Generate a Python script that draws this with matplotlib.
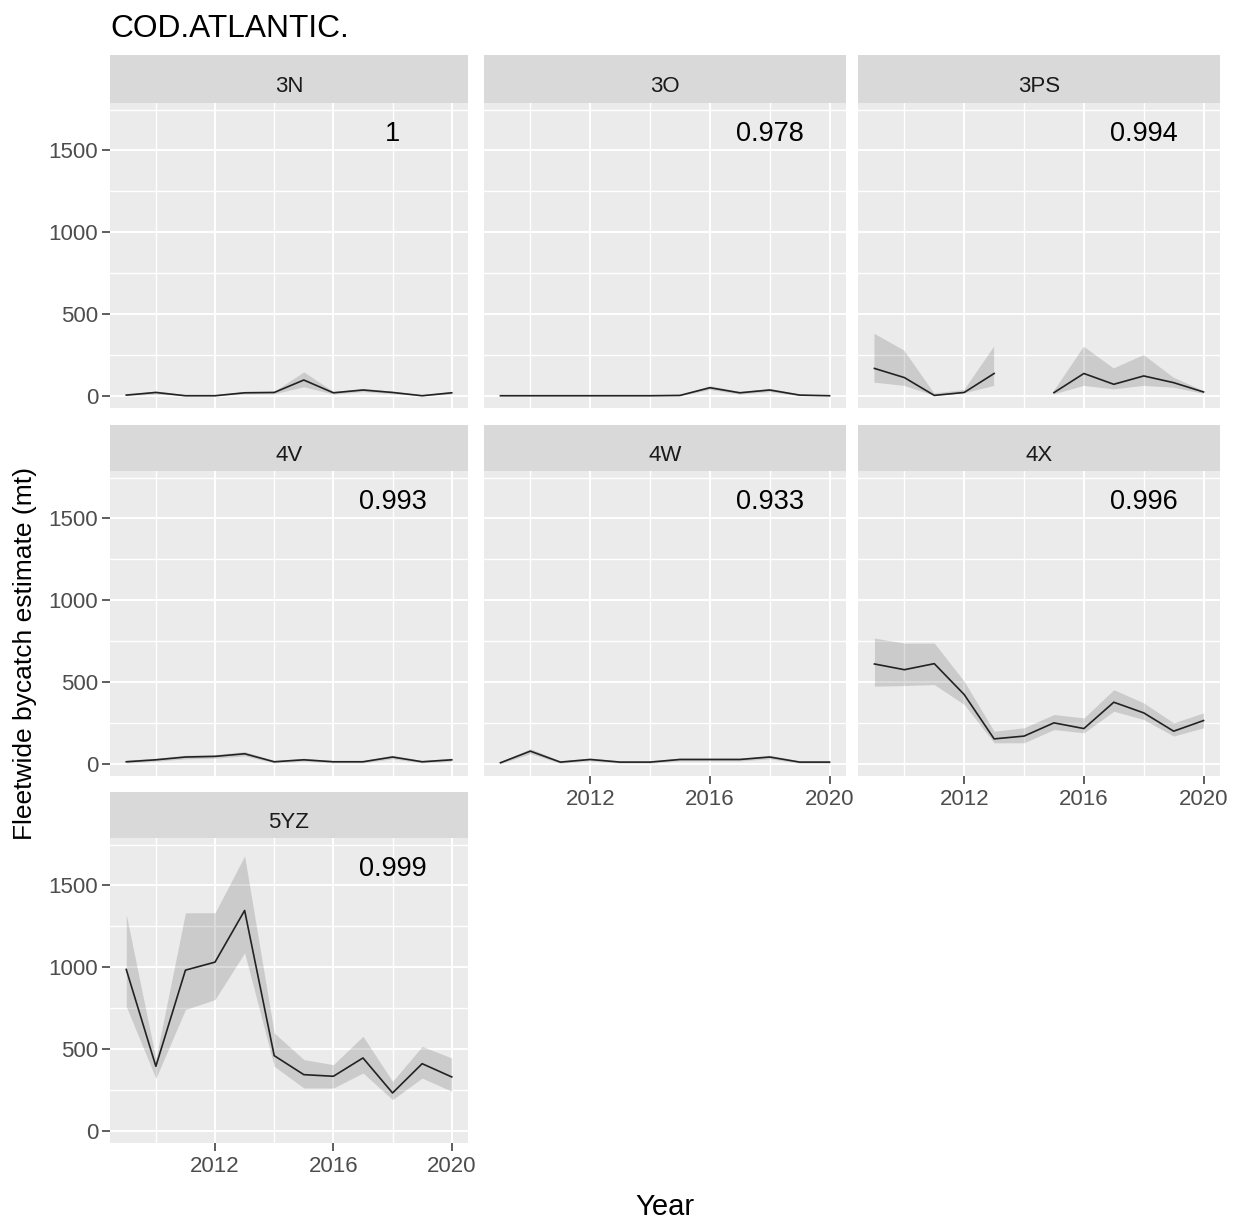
import numpy as np
import matplotlib.pyplot as plt
from matplotlib.ticker import FixedLocator

plt.rcParams['font.family'] = ['Liberation Sans', 'DejaVu Sans']

years = np.arange(2009, 2021)
areas = ["3N", "3O", "3PS", "4V", "4W", "4X", "5YZ"]
r2_text = ["1", "0.978", "0.994", "0.993", "0.933", "0.996", "0.999"]

# fleetwide bycatch estimates (mt) with lower / upper bounds, 2009-2020
est_3n = [4, 20, 0, 0, 18, 20, 96, 18, 35, 20, 0, 18]
lo_3n = [0, 10, 0, 0, 10, 12, 55, 10, 25, 12, 0, 10]
hi_3n = [8, 30, 6, 6, 26, 28, 146, 26, 45, 28, 6, 26]

est_3o = [0, 0, 0, 0, 0, 0, 2, 49, 18, 35, 4, 0]
lo_3o = [0, 0, 0, 0, 0, 0, 0, 38, 10, 25, 0, 0]
hi_3o = [3, 3, 3, 3, 3, 3, 6, 62, 26, 45, 10, 3]

est_3ps = [167, 111, 2, 20, 136, np.nan, 19, 136, 70, 121, 80, 23]
lo_3ps = [80, 60, 0, 14, 60, np.nan, 8, 60, 39, 60, 49, 12]
hi_3ps = [379, 276, 14, 35, 300, np.nan, 29, 300, 167, 249, 111, 29]

est_4v = [12, 24, 41, 45, 61, 12, 24, 12, 12, 41, 12, 24]
lo_4v = [4, 15, 30, 34, 48, 5, 15, 5, 5, 30, 5, 15]
hi_4v = [22, 34, 52, 56, 74, 20, 34, 20, 20, 52, 20, 34]

est_4w = [6, 77, 10, 26, 10, 10, 26, 26, 26, 41, 10, 10]
lo_4w = [0, 62, 3, 17, 3, 3, 17, 17, 17, 30, 3, 3]
hi_4w = [12, 92, 18, 35, 18, 18, 35, 35, 35, 52, 18, 18]

est_4x = [610, 575, 612, 423, 152, 169, 250, 215, 376, 311, 199, 264]
lo_4x = [474, 478, 484, 362, 128, 128, 209, 189, 321, 270, 169, 220]
hi_4x = [768, 738, 738, 504, 199, 220, 301, 280, 453, 372, 250, 311]

est_5yz = [986, 394, 982, 1031, 1347, 459, 343, 333, 445, 231, 410, 329]
lo_5yz = [760, 320, 741, 802, 1088, 394, 261, 261, 353, 190, 322, 241]
hi_5yz = [1322, 440, 1333, 1333, 1680, 598, 435, 404, 578, 302, 516, 445]

series = {
    "3N": (est_3n, lo_3n, hi_3n),
    "3O": (est_3o, lo_3o, hi_3o),
    "3PS": (est_3ps, lo_3ps, hi_3ps),
    "4V": (est_4v, lo_4v, hi_4v),
    "4W": (est_4w, lo_4w, hi_4w),
    "4X": (est_4x, lo_4x, hi_4x),
    "5YZ": (est_5yz, lo_5yz, hi_5yz),
}

W, H = 1241, 1220
fig = plt.figure(figsize=(W / 100, H / 100), dpi=100)

# pixel layout of the facet grid: columns (left, right), rows (strip top, panel top, panel bottom)
col_x = [(110, 468), (484, 846), (858, 1220)]
row_y = [(55, 103, 408), (425, 471, 776), (792, 838, 1143)]


def box(x0, y0, x1, y1):
    return [x0 / W, 1 - y1 / H, (x1 - x0) / W, (y1 - y0) / H]


for i, area in enumerate(areas):
    r, c = divmod(i, 3)
    x0, x1 = col_x[c]
    s0, p0, p1 = row_y[r]

    strip = fig.add_axes(box(x0, s0, x1, p0))
    strip.set_facecolor('#D9D9D9')
    strip.set_xticks([])
    strip.set_yticks([])
    for sp in strip.spines.values():
        sp.set_visible(False)
    strip.text(0.5, 0.22, area, ha='center', va='baseline', fontsize=16,
               color='#1A1A1A', transform=strip.transAxes)

    ax = fig.add_axes(box(x0, p0, x1, p1))
    ax.set_facecolor('#EBEBEB')
    for sp in ax.spines.values():
        sp.set_visible(False)
    ax.set_axisbelow(True)
    ax.set_xlim(2008.45, 2020.55)
    ax.set_ylim(-75, 1790)
    ax.xaxis.set_major_locator(FixedLocator([2012, 2016, 2020]))
    ax.xaxis.set_minor_locator(FixedLocator([2010, 2014, 2018]))
    ax.yaxis.set_major_locator(FixedLocator([0, 500, 1000, 1500]))
    ax.yaxis.set_minor_locator(FixedLocator([250, 750, 1250, 1750]))
    ax.grid(which='major', color='white', lw=1.4)
    ax.grid(which='minor', color='white', lw=1.0)
    ax.tick_params(which='minor', length=0)
    ax.tick_params(which='major', length=5.5, width=1.1, color='#333333',
                   labelsize=16, labelcolor='#4D4D4D')
    ax.tick_params(axis='x', pad=4)
    ax.tick_params(axis='y', pad=3)

    if c != 0:
        ax.tick_params(axis='y', which='both', length=0, labelleft=False)
    bottom_row = (r == 2) or (r == 1 and c > 0)
    if not bottom_row:
        ax.tick_params(axis='x', which='both', length=0, labelbottom=False)

    est, lo, hi = (np.array(v, dtype=float) for v in series[area])
    ax.fill_between(years, lo, hi, color='#333333', alpha=0.17, lw=0)
    ax.plot(years, est, color='#222222', lw=1.2)
    ax.text(2018, 1600, r2_text[i], ha='center', va='center', fontsize=19.5,
            color='black')

fig.text(110 / W, 1 - 37 / H, "COD.ATLANTIC.", fontsize=22.8, ha='left',
         va='baseline')
fig.text(665 / W, 1 - 1215 / H, "Year", fontsize=21, ha='center', va='baseline')
fig.text(25 / W, 1 - 654 / H, "Fleetwide bycatch estimate (mt)", fontsize=19,
         rotation=90, ha='center', va='center')

fig.savefig('out.png', dpi=100)
